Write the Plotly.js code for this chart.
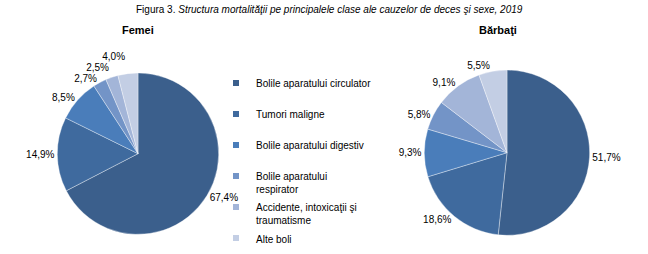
<!DOCTYPE html>
<html>
<head>
<meta charset="utf-8">
<script src="https://cdn.plot.ly/plotly-3.0.1.min.js"></script>
<style>html,body{margin:0;padding:0;background:#fff;}#chart{width:648px;height:254px;}
path.textline{display:none;}</style>
</head>
<body>
<div id="chart"></div>
<script>
// ---- data ----
const categories = [
  "Bolile aparatului circulator",
  "Tumori maligne",
  "Bolile aparatului digestiv",
  "Bolile aparatului respirator",
  "Accidente, intoxicaţii şi traumatisme",
  "Alte boli"
];
const legendLabels = [
  "Bolile aparatului circulator<br> ",
  "Tumori maligne<br> ",
  "Bolile aparatului digestiv<br> ",
  "Bolile aparatului<br>respirator",
  "Accidente, intoxicaţii şi<br>traumatisme",
  "Alte boli"
];
const femeiValues = [67.4, 14.9, 8.5, 2.7, 2.5, 4.0];
const barbatiValues = [51.7, 18.6, 9.3, 5.8, 9.1, 5.5];
const colors = ["#3b5f8c", "#3f6a9e", "#4a7dba", "#7394c7", "#a3b5d8", "#c3cee4"];
const chartTitle = "Figura 3. <i>Structura mortalităţii pe principalele clase ale cauzelor de deces şi sexe, 2019</i>";
const femeiTitle = "Femei";
const barbatiTitle = "Bărbaţi";

// ---- layout helpers ----
const W = 648, H = 254;
function dom(cx, cy, r) {
  return { x: [(cx - r) / W, (cx + r) / W], y: [1 - (cy + r) / H, 1 - (cy - r) / H] };
}
const fmt = v => v.toFixed(1).replace('.', ',') + '%';

const pieCommon = {
  type: 'pie', labels: categories, sort: false, direction: 'clockwise', rotation: 0,
  textinfo: 'text', textposition: 'outside', showlegend: false,
  marker: { colors: colors, line: { color: 'rgba(255,255,255,0.45)', width: 0.8 } },
  outsidetextfont: { family: 'Arial, Liberation Sans, sans-serif', size: 10, color: '#000' },
  hoverinfo: 'label+percent'
};

const traces = [
  Object.assign({}, pieCommon, { values: femeiValues, text: femeiValues.map(fmt), domain: dom(138, 158, 83) }),
  Object.assign({}, pieCommon, { values: barbatiValues, text: barbatiValues.map(fmt), domain: dom(507, 157, 85) })
];
categories.forEach((c, i) => {
  traces.push({
    type: 'scatter', mode: 'markers', x: [null], y: [null], name: legendLabels[i],
    legendgroup: 'g' + i, showlegend: true,
    marker: { symbol: 'square', size: 6, color: colors[i] }, hoverinfo: 'skip'
  });
});

const layout = {
  width: W, height: H, margin: { l: 0, r: 0, t: 0, b: 0 },
  paper_bgcolor: '#fff', plot_bgcolor: 'rgba(0,0,0,0)',
  font: { family: 'Arial, Liberation Sans, sans-serif', size: 10, color: '#000' },
  xaxis: { visible: false }, yaxis: { visible: false },
  showlegend: true,
  legend: {
    x: 216 / W, y: 1 - 72 / H, xanchor: 'left', yanchor: 'top',
    valign: 'top', tracegroupgap: 2, itemwidth: 30,
    font: { family: 'Arial, Liberation Sans, sans-serif', size: 10, color: '#000' },
    bgcolor: 'rgba(0,0,0,0)'
  },
  annotations: [
    { text: chartTitle, x: 329 / W, y: 1 - 10 / H, xref: 'paper', yref: 'paper', showarrow: false,
      xanchor: 'center', yanchor: 'middle', font: { size: 10 } },
    { text: '<b>' + femeiTitle + '</b>', x: 138 / W, y: 1 - 31 / H, xref: 'paper', yref: 'paper', showarrow: false,
      xanchor: 'center', yanchor: 'middle', font: { size: 11 } },
    { text: '<b>' + barbatiTitle + '</b>', x: 498 / W, y: 1 - 31 / H, xref: 'paper', yref: 'paper', showarrow: false,
      xanchor: 'center', yanchor: 'middle', font: { size: 11 } }
  ]
};

Plotly.newPlot('chart', traces, layout, { displayModeBar: false, staticPlot: true });
</script>
</body>
</html>
